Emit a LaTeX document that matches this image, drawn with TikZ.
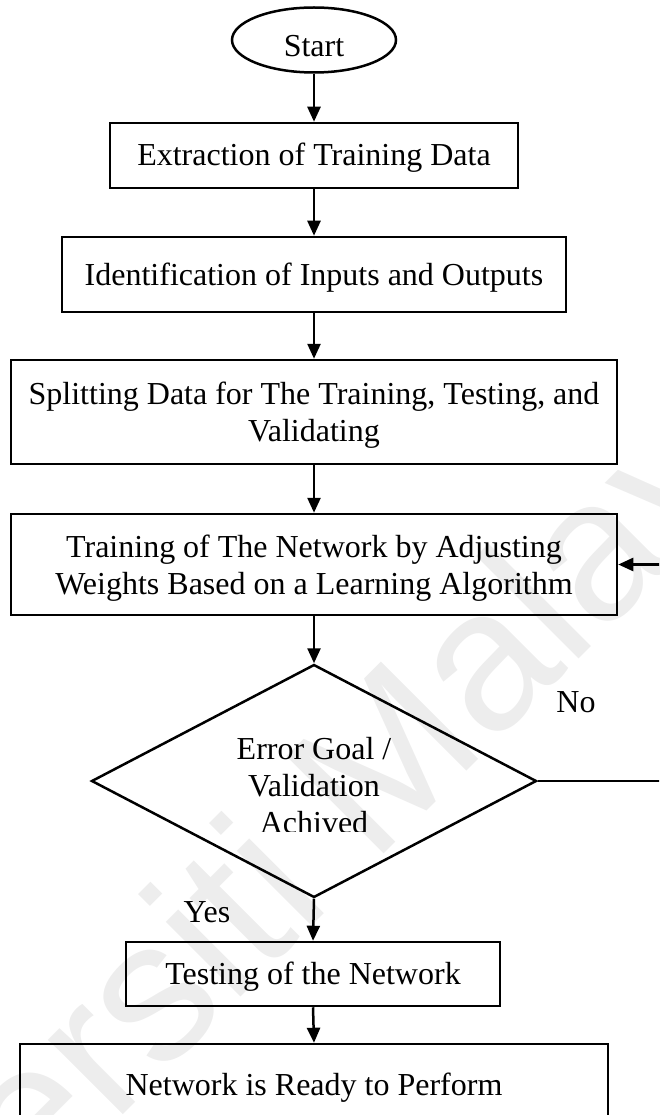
\documentclass[tikz,border=0pt]{standalone}
\usepackage{fontspec}
\setmainfont{Liberation Serif}
\newfontfamily\wmfont{Liberation Sans}
\usetikzlibrary{shapes.geometric,arrows.meta}

\begin{document}
\begin{tikzpicture}[x=1pt,y=-1pt,
  line width=2.5pt,
  every node/.style={font=\fontsize{32}{37}\selectfont},
  flowbox/.style={draw, rectangle, inner sep=0pt, align=center},
  oneline/.style={text height=28pt, text depth=7pt},
  twoline/.style={text depth=0pt},
  flowarrow/.style={-{Triangle[width=13pt,length=15pt]}},
  watermark/.style={text=black!7, font=\wmfont\fontsize{200}{200}\selectfont}
]
\useasboundingbox (0,0) rectangle (659,1115);
\clip (0,0) rectangle (659,1115);

% faint background watermark
\node[watermark, rotate=45] (wm) at (254,911) {Universiti Malaya};

% flow steps
\node[draw, ellipse, inner sep=0pt, minimum width=164pt, minimum height=65pt,
      text height=34pt, text depth=0pt] (start) at (314,40) {Start};
\node[flowbox, oneline, minimum width=408pt, minimum height=65pt] (b1) at (314,155.5)
  {Extraction of Training Data};
\node[flowbox, oneline, minimum width=504pt, minimum height=75pt] (b2) at (314,274.5)
  {Identification of Inputs and Outputs};
\node[flowbox, twoline, minimum width=606pt, minimum height=104pt] (b3) at (314,412)
  {Splitting Data for The Training, Testing, and\\Validating};
\node[flowbox, twoline, minimum width=606pt, minimum height=101pt] (b4) at (314,564.5)
  {Training of The Network by Adjusting\\Weights Based on a Learning Algorithm};
\node[draw, diamond, inner sep=0pt, minimum width=445pt, minimum height=233pt] (dec) at (314,781) {};
\node[flowbox, oneline, minimum width=374pt, minimum height=64pt] (b5) at (313,974)
  {Testing of the Network};
\node[flowbox, oneline, minimum width=588pt, minimum height=81pt] (b6) at (314,1084.5)
  {Network is Ready to Perform};

% decision text, cut off at its lower edge
\begin{scope}
  \clip (200,700) rectangle (430,831);
  \node[align=center, inner sep=0pt] (dectext) at (314,786) {Error Goal /\\Validation\\Achived};
\end{scope}

% branch labels
\node[anchor=base, inner sep=0pt] (yes) at (207,922) {Yes};
\node[anchor=base, inner sep=0pt] (no) at (576,712) {No};

% connectors
\draw[flowarrow] (start.south) -- (b1.north);
\draw[flowarrow] (b1.south) -- (b2.north);
\draw[flowarrow] (b2.south) -- (b3.north);
\draw[flowarrow] (b3.south) -- (b4.north);
\draw[flowarrow] (b4.south) -- (dec.north);
\draw[flowarrow] (dec.south) -- (b5.north);
\draw[flowarrow] (b5.south) -- (b6.north);

% loop back from the decision to the training step
\coordinate (loopx) at (668,781);
\draw[flowarrow] (dec.east) -- (loopx) |- (b4.east);
\end{tikzpicture}
\end{document}
